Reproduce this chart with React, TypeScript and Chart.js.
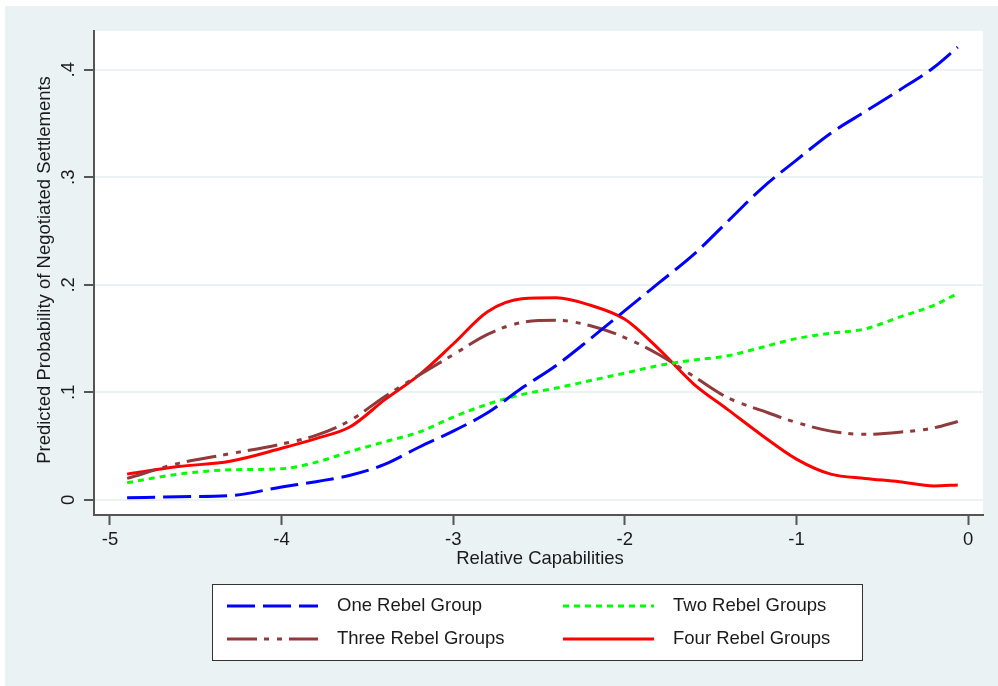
import React, { useEffect, useRef } from "react";
import { Chart, registerables } from "chart.js";

Chart.register(...registerables);

const xValues = [-4.9, -4.6, -4.3, -4.0, -3.8, -3.6, -3.4, -3.2, -3.0, -2.8, -2.6, -2.4, -2.2, -2.0, -1.8, -1.6, -1.4, -1.2, -1.0, -0.8, -0.6, -0.4, -0.2, -0.06];
const oneRebel = [0.002, 0.003, 0.004, 0.012, 0.017, 0.023, 0.033, 0.049, 0.064, 0.081, 0.104, 0.125, 0.150, 0.176, 0.202, 0.228, 0.259, 0.290, 0.316, 0.341, 0.361, 0.381, 0.402, 0.421];
const twoRebel = [0.016, 0.024, 0.028, 0.029, 0.035, 0.045, 0.054, 0.063, 0.077, 0.089, 0.098, 0.104, 0.111, 0.118, 0.125, 0.130, 0.134, 0.142, 0.150, 0.155, 0.159, 0.170, 0.181, 0.192];
const threeRebel = [0.020, 0.034, 0.043, 0.052, 0.060, 0.074, 0.096, 0.116, 0.135, 0.154, 0.165, 0.167, 0.162, 0.151, 0.135, 0.115, 0.095, 0.083, 0.072, 0.064, 0.061, 0.063, 0.067, 0.073];
const fourRebel = [0.024, 0.031, 0.036, 0.048, 0.057, 0.068, 0.093, 0.116, 0.145, 0.175, 0.187, 0.188, 0.181, 0.168, 0.140, 0.108, 0.084, 0.060, 0.038, 0.024, 0.020, 0.017, 0.013, 0.014];

const seriesNames = ["One Rebel Group", "Two Rebel Groups", "Three Rebel Groups", "Four Rebel Groups"];
const xTicks = [-5, -4, -3, -2, -1, 0];
const xTickLabels = ["-5", "-4", "-3", "-2", "-1", "0"];
const yTicks = [0, 0.1, 0.2, 0.3, 0.4];
const yTickLabels = ["0", ".1", ".2", ".3", ".4"];
const xTitle = "Relative Capabilities";
const yTitle = "Predicted Probability of Negotiated Settlements";

const colors = ["#0000FF", "#00FF00", "#903A3B", "#FF0000"];
const dashes = [[28, 8], [6, 5], [30, 7, 5, 8, 5, 7], []];

const BG = "#EAF2F3";
const TEXT = "#1b1b1b";
const FONT = '18.5px "Liberation Sans", Arial, sans-serif';

export default function App() {
  const ref = useRef<HTMLCanvasElement | null>(null);

  useEffect(() => {
    const canvas = ref.current;
    if (!canvas) return;
    const allSeries = [oneRebel, twoRebel, threeRebel, fourRebel];

    const bgPlugin = {
      id: "bgPlugin",
      beforeDraw(chart: any) {
        const ctx = chart.ctx;
        const a = chart.chartArea;
        ctx.save();
        ctx.fillStyle = "#ffffff";
        ctx.fillRect(0, 0, chart.width, chart.height);
        ctx.fillStyle = BG;
        ctx.fillRect(5, 6, chart.width - 5, chart.height - 6);
        ctx.fillStyle = "#ffffff";
        ctx.fillRect(a.left, a.top, a.right - a.left, a.bottom - a.top);
        ctx.restore();
      },
    };

    const textPlugin = {
      id: "textPlugin",
      afterDraw(chart: any) {
        const ctx = chart.ctx;
        const xs = chart.scales.x;
        const ys = chart.scales.y;
        ctx.save();
        ctx.fillStyle = TEXT;
        ctx.font = FONT;
        ctx.textAlign = "center";
        ctx.textBaseline = "middle";
        xTicks.forEach((v, i) => {
          ctx.fillText(xTickLabels[i], xs.getPixelForValue(v), 540);
        });
        yTicks.forEach((v, i) => {
          ctx.save();
          ctx.translate(69, ys.getPixelForValue(v));
          ctx.rotate(-Math.PI / 2);
          ctx.fillText(yTickLabels[i], 0, 0);
          ctx.restore();
        });
        ctx.fillText(xTitle, 540, 559);
        ctx.save();
        ctx.translate(45, 270);
        ctx.rotate(-Math.PI / 2);
        ctx.fillText(yTitle, 0, 0);
        ctx.restore();

        // legend box
        const bx = 212, by = 584, bw = 650, bh = 76;
        ctx.fillStyle = "#ffffff";
        ctx.fillRect(bx, by, bw, bh);
        ctx.strokeStyle = "#333333";
        ctx.lineWidth = 1;
        ctx.strokeRect(bx + 0.5, by + 0.5, bw, bh);
        const cols = [227, 563];
        const rows = [606, 639];
        seriesNames.forEach((name, i) => {
          const cx = cols[i % 2];
          const cy = rows[Math.floor(i / 2)];
          ctx.beginPath();
          ctx.setLineDash(dashes[i]);
          ctx.strokeStyle = colors[i];
          ctx.lineWidth = 3;
          ctx.moveTo(cx, cy);
          ctx.lineTo(cx + 91, cy);
          ctx.stroke();
          ctx.setLineDash([]);
          ctx.fillStyle = TEXT;
          ctx.textAlign = "left";
          ctx.fillText(name, cx + 110, cy);
        });
        ctx.restore();
      },
    };

    const chart = new Chart(canvas, {
      type: "line",
      data: {
        datasets: allSeries.map((s, i) => ({
          label: seriesNames[i],
          data: xValues.map((x, j) => ({ x, y: s[j] })),
          borderColor: colors[i],
          backgroundColor: colors[i],
          borderWidth: 3,
          borderDash: dashes[i],
          pointRadius: 0,
          fill: false,
          cubicInterpolationMode: "monotone",
        })),
      },
      options: {
        responsive: false,
        animation: false,
        layout: { padding: { left: 0, top: 31, right: 15, bottom: 0 }, autoPadding: false },
        plugins: { legend: { display: false }, tooltip: { enabled: false } },
        scales: {
          x: {
            type: "linear",
            min: -5.093,
            max: 0.087,
            afterBuildTicks: (s: any) => { s.ticks = xTicks.map((v) => ({ value: v })); },
            afterFit: (s: any) => { s.height = 171; },
            ticks: { display: false },
            grid: { color: "rgba(0,0,0,0)", tickColor: "#555555", tickLength: 10, tickWidth: 2, drawTicks: true },
            border: { display: true, color: "#555555", width: 2 },
          },
          y: {
            type: "linear",
            min: -0.014,
            max: 0.436,
            afterBuildTicks: (s: any) => { s.ticks = yTicks.map((v) => ({ value: v })); },
            afterFit: (s: any) => { s.width = 94; },
            ticks: { display: false },
            grid: { color: BG, lineWidth: 2, tickColor: "#555555", tickLength: 10, tickWidth: 2, drawTicks: true },
            border: { display: true, color: "#555555", width: 2 },
          },
        },
      },
      plugins: [bgPlugin, textPlugin],
    } as any);
    return () => chart.destroy();
  }, []);

  return (
    <div style={{ position: "fixed", left: 0, top: 0, width: 998, height: 686 }}>
      <canvas ref={ref} width={998} height={686} style={{ width: 998, height: 686, display: "block" }} />
    </div>
  );
}
